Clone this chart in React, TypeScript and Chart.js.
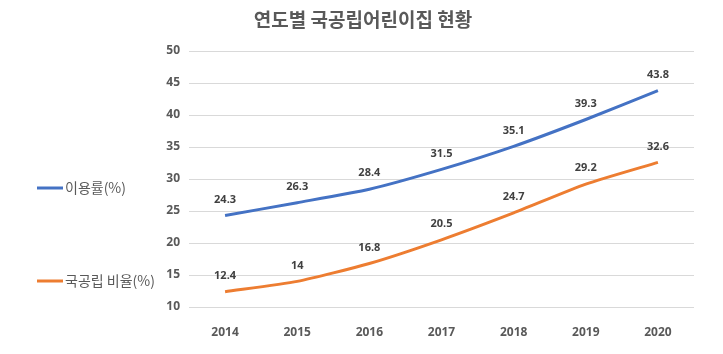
import React, { useEffect, useRef } from "react";
import { Chart, registerables } from "chart.js";
Chart.register(...registerables);

const categories = ["2014", "2015", "2016", "2017", "2018", "2019", "2020"];
const usageRate = [24.3, 26.3, 28.4, 31.5, 35.1, 39.3, 43.8];
const publicRatio = [12.4, 14, 16.8, 20.5, 24.7, 29.2, 32.6];
const seriesNames = ["이용률(%)", "국공립 비율(%)"];
const titleText = "연도별 국공립어린이집 현황";

const numFont = "'Open Sans', 'Noto Sans', sans-serif";
const krFont = "'Noto Sans CJK KR', 'Noto Sans', sans-serif";

export default function App() {
  const ref = useRef<HTMLCanvasElement>(null);
  useEffect(() => {
    document.body.style.margin = "0";
    const labelPlugin = {
      id: "custom",
      afterDatasetsDraw(chart: any) {
        const ctx = chart.ctx;
        ctx.save();
        // data labels
        chart.data.datasets.forEach((ds: any, i: number) => {
          const meta = chart.getDatasetMeta(i);
          meta.data.forEach((pt: any, j: number) => {
            ctx.font = `bold 11px ${numFont}`;
            ctx.fillStyle = "#404040";
            ctx.textAlign = "center";
            ctx.textBaseline = "middle";
            ctx.fillText(String(ds.data[j]), pt.x, pt.y - 16);
          });
        });
        // title
        ctx.font = `bold 19px ${krFont}`;
        ctx.fillStyle = "#595959";
        ctx.textAlign = "center";
        ctx.textBaseline = "middle";
        ctx.fillText(titleText, 363, 20);
        // legend
        const ys = [188, 281];
        chart.data.datasets.forEach((ds: any, i: number) => {
          ctx.strokeStyle = ds.borderColor;
          ctx.lineWidth = 3;
          ctx.beginPath();
          ctx.moveTo(37, ys[i]);
          ctx.lineTo(63, ys[i]);
          ctx.stroke();
          ctx.font = `14px ${krFont}`;
          ctx.fillStyle = "#595959";
          ctx.textAlign = "left";
          ctx.fillText(ds.label, 65, ys[i]);
        });
        ctx.restore();
      },
    };
    const chart = new Chart(ref.current!, {
      type: "line",
      data: {
        labels: categories,
        datasets: [
          {
            label: seriesNames[0],
            data: usageRate,
            borderColor: "#4472C4",
            borderWidth: 3,
            pointRadius: 0,
            tension: 0.2,
          },
          {
            label: seriesNames[1],
            data: publicRatio,
            borderColor: "#ED7D31",
            borderWidth: 3,
            pointRadius: 0,
            tension: 0.2,
          },
        ],
      },
      options: {
        responsive: false,
        animation: false,
        layout: { padding: { left: 159, top: 51, right: 29, bottom: 0 } },
        plugins: { legend: { display: false }, title: { display: false }, tooltip: { enabled: false } },
        scales: {
          x: {
            offset: true,
            grid: { display: false },
            border: { display: false },
            ticks: { font: { family: numFont, size: 12, weight: "bold" }, color: "#595959", padding: 10 },
            afterFit: (a: any) => { a.height = 47; },
          },
          y: {
            min: 10,
            max: 50,
            ticks: { stepSize: 5, font: { family: numFont, size: 12, weight: "bold" }, color: "#595959", padding: 9 },
            grid: { color: "#d9d9d9", drawTicks: false },
            border: { display: false },
            afterFit: (a: any) => { a.width = 30; },
          },
        },
      },
      plugins: [labelPlugin],
    });
    return () => chart.destroy();
  }, []);
  return <canvas ref={ref} width={723} height={354} style={{ display: "block" }} />;
}
